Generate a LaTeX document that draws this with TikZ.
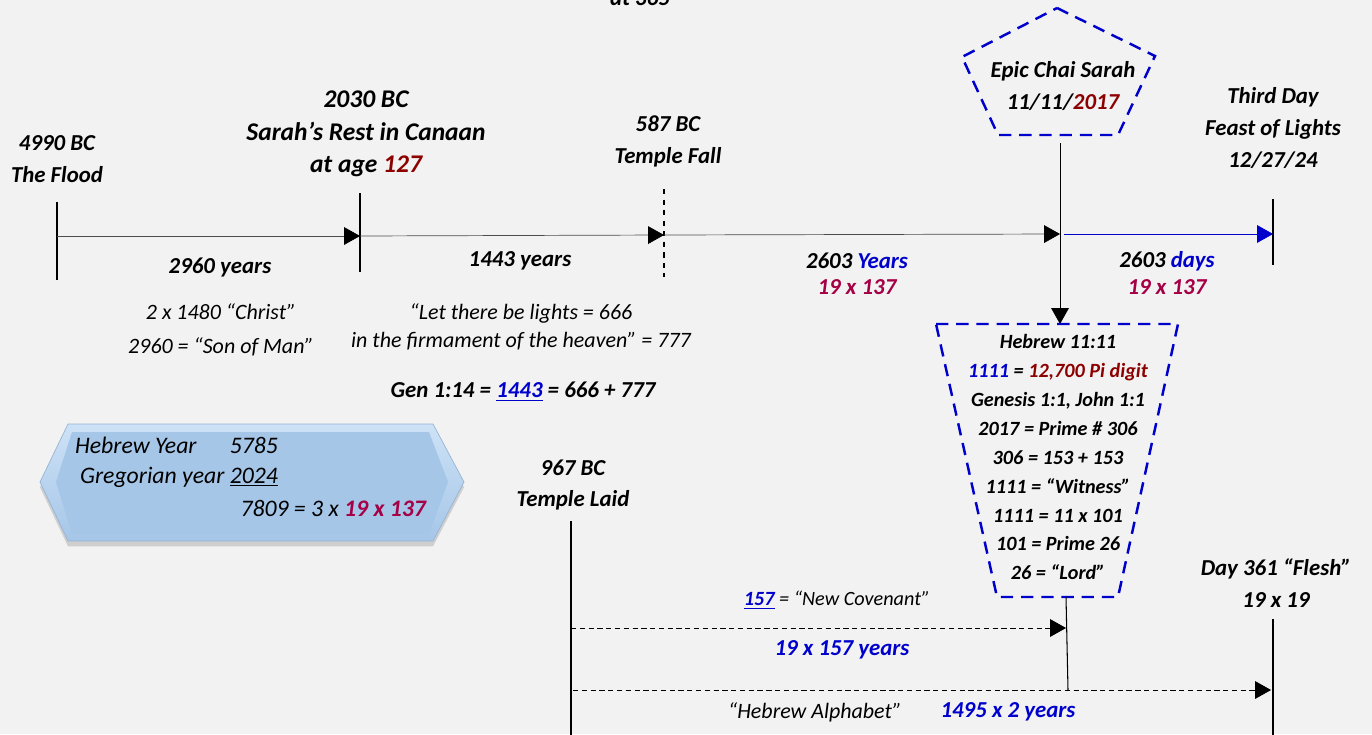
\documentclass[tikz,border=0pt]{standalone}
\usepackage{fontspec}
\setmainfont{Carlito}
\usepackage{xcolor}
\usetikzlibrary{arrows.meta,positioning,shapes,calc,shadows}
\definecolor{bgcol}{RGB}{242,242,242}
\definecolor{darkred}{RGB}{140,0,0}
\definecolor{crimson}{RGB}{165,0,70}
\definecolor{royal}{RGB}{0,0,205}
\definecolor{hexlight}{RGB}{205,226,246}
\definecolor{hexmid}{RGB}{166,198,232}
\definecolor{hexedge}{RGB}{150,180,212}
\tikzset{
  datelbl/.style={font=\fontsize{13}{18.2}\selectfont\bfseries\itshape,
                  align=center, inner sep=1pt},
  notelbl/.style={font=\fontsize{12.5}{19}\selectfont\itshape,
                  align=center, inner sep=1pt},
  tickline/.style={black, semithick},
  timeline/.style={-{Triangle[length=9pt,width=10pt]}, black!70, thin},
  dasharrow/.style={-{Triangle[length=9pt,width=10pt,black]}, black,
                    dash pattern=on 3pt off 2pt, thin},
  bluedash/.style={draw=royal, line width=1.4pt, dash pattern=on 7pt off 4.5pt}
}

\begin{document}
\begin{tikzpicture}[x=0.02cm, y=-0.02cm,
      hexlbl/.style={font=\fontsize{13.5}{16}\selectfont\itshape,
                     inner sep=1pt},
      boxlbl/.style={font=\fontsize{11.5}{16.5}\selectfont\bfseries\itshape,
                     align=center, inner sep=1pt}
    ]
    \useasboundingbox (0,0) rectangle (1372,734);
    \fill[bgcol] (0,0) rectangle (1372,734);

    % Time points
    \coordinate (flood) at (57,236);
    \coordinate (sarah) at (360,236);
    \coordinate (fall)  at (664,235);
    \coordinate (epic)  at (1060,234);
    \coordinate (feast) at (1273,234);

    % Ticks
    \draw[tickline] (flood) ++(0,-34) -- ++(0,78);
    \draw[tickline] (sarah) ++(0,-43) -- ++(0,79);
    \draw[tickline, dashed] (fall) ++(0,-46) -- ++(0,88);
    \draw[tickline] (feast) ++(0,-35) -- ++(0,66);

    % Main line
    \draw[timeline, -{Triangle[length=9pt,width=10pt,black]}] (flood) -- (sarah);
    \draw[timeline, -{Triangle[length=9pt,width=10pt,black]}] (sarah) -- (fall);
    \draw[timeline, -{Triangle[length=9pt,width=10pt,black]}] (fall) -- (epic);
    \draw[timeline, royal] (epic) ++(4,0) -- (feast);

    % Top labels
    \node[datelbl, anchor=base] (top) at (640,5) {at 365};
    \node[datelbl] (floodlbl) at (57,159) {4990 BC\\The Flood};
    \node[datelbl, font=\fontsize{14.5}{18.5}\selectfont\bfseries\itshape]
      (sarahlbl) at (366,134)
      {2030 BC\\Sarah’s Rest in Canaan\\at age \textcolor{darkred}{127}};
    \node[datelbl] (falllbl) at (668,141) {587 BC\\Temple Fall};
    \node[datelbl] (feastlbl) at (1273,128)
      {Third Day\\Feast of Lights\\12/27/24};

    % Pentagon
    \draw[bluedash] (1057,8) -- (1155,56) -- (1118,135) -- (998,135)
      -- (962,57) -- cycle;
    \node[datelbl] (chai) at (1063,86)
      {Epic Chai Sarah\\11/11/\textcolor{darkred}{2017}};

    % Span labels
    \node[datelbl] (span1) at (220,267) {2960 years};
    \node[datelbl] (span2) at (520,261) {1443 years};
    \node[datelbl, font=\fontsize{13}{15}\selectfont\bfseries\itshape]
      (span3) at (857,274)
      {2603 \textcolor{royal}{Years}\\\textcolor{crimson}{19 x 137}};
    \node[datelbl, font=\fontsize{13}{15}\selectfont\bfseries\itshape]
      (span4) at (1167,273)
      {2603 \textcolor{royal}{days}\\\textcolor{crimson}{19 x 137}};

    % Notes
    \node[notelbl] (christ) at (221,330)
      {2 x 1480 “Christ”\\2960 = “Son of Man”};
    \node[notelbl, font=\fontsize{12.5}{16}\selectfont\itshape]
      (lights) at (521,327)
      {“Let there be lights = 666\\in the firmament of the heaven” = 777};
    \node[datelbl] (gen) at (523,392)
      {Gen 1:14 = \textcolor{royal}{\underline{1443}} = 666 + 777};

    % Year box
    \path[drop shadow={shadow xshift=0pt, shadow yshift=-3pt, opacity=.3},
          top color=hexlight, bottom color=hexmid, draw=hexedge, thin]
      (40,482) -- (68,424) -- (433,424) -- (464,482) -- (433,541)
      -- (68,541) -- cycle;
    \fill[hexmid] (56,482) -- (72,432) -- (429,432) -- (448,482)
      -- (429,534) -- (72,534) -- cycle;
    \node[hexlbl, anchor=west] (heb) at (73,445)
      {Hebrew Year\hspace{1.4em}5785};
    \node[hexlbl, anchor=west] (greg) at (78,477)
      {Gregorian year \underline{2024}};
    \node[hexlbl, anchor=east] (sum) at (428,508)
      {7809 = 3 x \textcolor{crimson}{\bfseries 19 x 137}};

    % Trapezoid
    \coordinate (pentB) at (1060,143);
    \coordinate (trapT) at (1060,324);
    \draw[timeline, black] (pentB) -- (trapT);
    \draw[bluedash] (936,324) -- (1178,324) -- (1118,597) -- (997,597)
      -- cycle;
    \node[boxlbl] (hebnote) at (1058,457) {Hebrew 11:11\\
      \textcolor{royal}{1111} = \textcolor{darkred}{12,700 Pi digit}\\
      Genesis 1:1, John 1:1\\
      2017 = Prime \# 306\\
      306 = 153 + 153\\
      1111 = “Witness”\\
      1111 = 11 x 101\\
      101 = Prime 26\\
      26 = “Lord”};

    % Temple laid
    \node[datelbl] (laidlbl) at (573,485) {967 BC\\Temple Laid};
    \coordinate (laidT) at (571,521);
    \coordinate (laidB) at (571,740);
    \draw[tickline] (laidT) -- (laidB);
    \coordinate (laid1) at (571,628);
    \coordinate (laid2) at (573,690);

    % Day 361
    \node[datelbl] (fleshlbl) at (1276,583) {Day 361 “Flesh”\\19 x 19};
    \coordinate (fleshT) at (1273,619);
    \coordinate (fleshB) at (1273,740);
    \draw[tickline] (fleshT) -- (fleshB);

    % Lower spans
    \coordinate (trapB) at (1066,597);
    \coordinate (cov) at (1066,628);
    \coordinate (trapL) at (1068,690);
    \draw[tickline] (trapB) -- (trapL);
    \draw[dasharrow] (laid1) -- (cov);
    \draw[dasharrow] (laid2) -- (1271,690) coordinate (flesh);
    \node[font=\fontsize{11.5}{14}\selectfont\itshape, inner sep=1pt]
      (covlbl) at (837,600)
      {\textcolor{royal}{\bfseries\underline{157}} = “New Covenant”};
    \node[datelbl, royal] (y157) at (842,650) {19 x 157 years};
    \node[notelbl] (alpha) at (815,712) {“Hebrew Alphabet”};
    \node[datelbl, royal] (y1495) at (1008,712) {1495 x 2 years};
  \end{tikzpicture}
\end{document}
